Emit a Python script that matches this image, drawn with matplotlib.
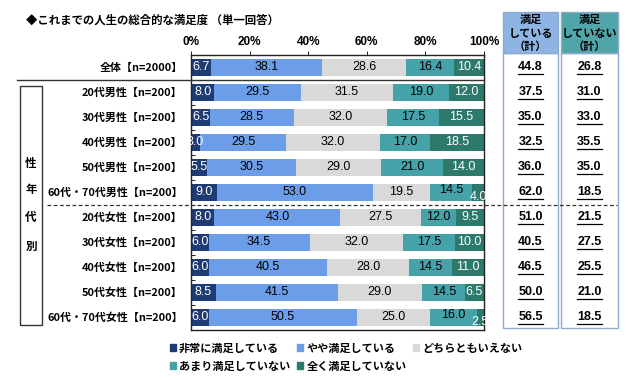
import numpy as np
import matplotlib
matplotlib.use('Agg')
import matplotlib.pyplot as plt
from matplotlib.patches import Rectangle, Patch
from matplotlib.lines import Line2D
from matplotlib.transforms import blended_transform_factory

plt.rcParams['font.family'] = ['Noto Sans CJK JP', 'DejaVu Sans']

# data
groups = ['全体【n=2000】',
          '20代男性【n=200】', '30代男性【n=200】', '40代男性【n=200】',
          '50代男性【n=200】', '60代・70代男性【n=200】',
          '20代女性【n=200】', '30代女性【n=200】', '40代女性【n=200】',
          '50代女性【n=200】', '60代・70代女性【n=200】']
answers = ['非常に満足している', 'やや満足している', 'どちらともいえない',
           'あまり満足していない', '全く満足していない']
very_satisfied = [6.7, 8.0, 6.5, 3.0, 5.5, 9.0, 8.0, 6.0, 6.0, 8.5, 6.0]
somewhat_satisfied = [38.1, 29.5, 28.5, 29.5, 30.5, 53.0, 43.0, 34.5, 40.5, 41.5, 50.5]
neutral = [28.6, 31.5, 32.0, 32.0, 29.0, 19.5, 27.5, 32.0, 28.0, 29.0, 25.0]
not_very = [16.4, 19.0, 17.5, 17.0, 21.0, 14.5, 12.0, 17.5, 14.5, 14.5, 16.0]
not_at_all = [10.4, 12.0, 15.5, 18.5, 14.0, 4.0, 9.5, 10.0, 11.0, 6.5, 2.5]
satisfied_total = [44.8, 37.5, 35.0, 32.5, 36.0, 62.0, 51.0, 40.5, 46.5, 50.0, 56.5]
unsatisfied_total = [26.8, 31.0, 33.0, 35.5, 35.0, 18.5, 21.5, 27.5, 25.5, 21.0, 18.5]
ticks = [0, 20, 40, 60, 80, 100]

colors = ['#1F3B73', '#6C9DE8', '#D9D9D9', '#45A2A8', '#2D7A6C']
text_colors = ['white', 'black', 'black', 'black', 'white']
series = [very_satisfied, somewhat_satisfied, neutral, not_very, not_at_all]

W, H = 640, 380
def fx(x):
    return x / W
def fy(y):
    return 1 - y / H

fig = plt.figure(figsize=(6.4, 3.8), dpi=100)
ax = fig.add_axes([fx(191), fy(329.5), fx(484) - fx(191), fy(54.5) - fy(329.5)])

y = np.arange(len(groups))
left = np.zeros(len(groups))
for k, vals in enumerate(series):
    vals = np.array(vals)
    ax.barh(y, vals, left=left, height=0.68, color=colors[k], label=answers[k])
    for i, v in enumerate(vals):
        dy = 0
        if k == 4 and v < 5:
            dy = 0.2
        if k == 3 and not_at_all[i] < 5:
            dy = -0.08
        ax.text(left[i] + v / 2, y[i] + dy, f'{v:.1f}', ha='center', va='center',
                color=text_colors[k], fontsize=9, family='Liberation Sans')
    left += vals

ax.set_xlim(0, 100)
ax.set_ylim(len(groups) - 0.5, -0.5)
ax.xaxis.tick_top()
ax.set_xticks(ticks)
ax.set_xticklabels([f'{t}%' for t in ticks], fontsize=8.5, family='Liberation Sans',
                   fontweight='bold')
ax.tick_params(axis='x', length=3, pad=2, width=0.6)
ax.set_yticks(y)
ax.set_yticklabels(groups, fontsize=7.9, fontweight='bold')
ax.tick_params(axis='y', length=0, pad=6)
ax.set_yticks(np.arange(len(groups) + 1) - 0.5, minor=True)
ax.tick_params(axis='y', which='minor', length=3, direction='in', width=0.6)
for s in ax.spines.values():
    s.set_linewidth(1.0)
    s.set_color('#222222')

# title
fig.text(fx(26), fy(20), '◆これまでの人生の総合的な満足度 （単一回答）', fontsize=8.2,
         fontweight='bold', ha='left', va='center')

# separators
trans = blended_transform_factory(fig.transFigure, ax.transData)
fig.add_artist(Line2D([fx(17), fx(484)], [0.5, 0.5], transform=trans, color='#333333', lw=1.0))
fig.add_artist(Line2D([fx(47), fx(617)], [5.5, 5.5], transform=trans, color='#333333',
                      lw=0.9, ls=(0, (3, 2))))

# side group box
fig.add_artist(Rectangle((fx(20), fy(325)), fx(42) - fx(20), fy(86) - fy(325),
                         transform=fig.transFigure, fill=False, ec='#333333', lw=1.0))
for ch, yy in zip('性年代別', [163, 190, 218, 246]):
    fig.text(fx(31), fy(yy), ch, fontsize=8.3, fontweight='bold', ha='center', va='center')

# summary columns
cols = [(503, 558, '#8DB4E2', '満足\nしている\n（計）', satisfied_total),
        (561, 618, '#4FA5A7', '満足\nしていない\n（計）', unsatisfied_total)]
renderer = fig.canvas.get_renderer()
for x0, x1, hc, head, vals in cols:
    fig.add_artist(Rectangle((fx(x0), fy(53)), fx(x1) - fx(x0), fy(12) - fy(53),
                             transform=fig.transFigure, fc=hc, ec='#8DA9CC', lw=1.0))
    fig.add_artist(Rectangle((fx(x0), fy(328)), fx(x1) - fx(x0), fy(53) - fy(328),
                             transform=fig.transFigure, fill=False, ec='#8DA9CC', lw=1.0))
    fig.text(fx((x0 + x1) / 2), fy(33), head, fontsize=8, fontweight='bold',
             ha='center', va='center', linespacing=1.05)
    for i, v in enumerate(vals):
        t = fig.text(fx((x0 + x1) / 2), 0, f'{v:.1f}', transform=trans, fontsize=9,
                     fontweight='bold', family='Liberation Sans', ha='center', va='center')
        t.set_position((fx((x0 + x1) / 2), y[i]))
        bb = t.get_window_extent(renderer)
        yl = bb.y0 - 1
        fig.add_artist(Line2D([bb.x0 / W, bb.x1 / W], [yl / H, yl / H],
                              transform=fig.transFigure, color='black', lw=0.9))

# legend
h = [Patch(color=c) for c in colors]
order = [0, 3, 1, 4, 2]
fig.legend([h[i] for i in order], [answers[i] for i in order], loc='upper left',
           bbox_to_anchor=(fx(164), fy(336)), ncol=3, frameon=False,
           prop={'weight': 'bold', 'size': 8}, handlelength=0.55, handleheight=0.55,
           handletextpad=0.3, columnspacing=0.6, labelspacing=0.45, borderpad=0)

fig.savefig('out.png', dpi=100)
